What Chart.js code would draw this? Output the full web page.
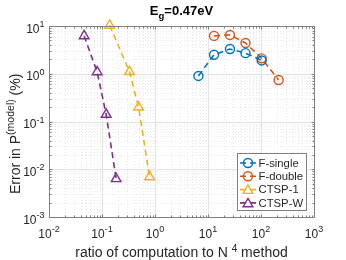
<!DOCTYPE html>
<html>
<head>
<meta charset="utf-8">
<script src="https://cdn.jsdelivr.net/npm/chart.js@4.4.0/dist/chart.umd.min.js"></script>
<style>
  html, body { margin: 0; padding: 0; background: #fff; }
</style>
</head>
<body>
<canvas id="chart" width="346" height="260"></canvas>
<script>
// values
const fSingleX = [6.6, 13, 26, 51, 103];
const fSingleY = [0.9, 2.5, 3.3, 2.7, 1.9];
const fDoubleX = [13, 26, 51, 103, 215];
const fDoubleY = [6.2, 6.5, 4.4, 2.1, 0.74];
const ctsp1X = [0.14, 0.33, 0.49, 0.79];
const ctsp1Y = [10.3, 1.1, 0.2, 0.0069];
const ctspWX = [0.046, 0.081, 0.12, 0.185];
const ctspWY = [6.2, 1.09, 0.14, 0.0063];

const seriesNames = ["F-single", "F-double", "CTSP-1", "CTSP-W"];
const seriesColors = ["#0072BD", "#D95319", "#EDB120", "#7E2F8E"];
const seriesMarkers = ["circle", "circle", "triangle", "triangle"];
const xTickExps = [-2, -1, 0, 1, 2, 3];
const yTickExps = [-3, -2, -1, 0, 1];

const FONT = '"Liberation Sans", Arial, sans-serif';
const TEXT = "#262626";
const AXIS = "#7f7f7f";

function makeSet(i, xs, ys) {
    const tri = seriesMarkers[i] === "triangle";
    return {
        label: seriesNames[i],
        data: xs.map((x, k) => ({ x: x, y: ys[k] })),
        showLine: true,
        borderColor: seriesColors[i],
        backgroundColor: "rgba(0,0,0,0)",
        borderWidth: 1.6,
        borderDash: [6, 4],
        pointStyle: seriesMarkers[i],
        pointRadius: tri ? 5.6 : 4.5,
        pointBorderWidth: 1.4,
        pointBorderColor: seriesColors[i],
        pointBackgroundColor: "rgba(0,0,0,0)",
        clip: false,
    };
}

function line(ctx, x1, y1, x2, y2) {
    ctx.beginPath();
    ctx.moveTo(x1, y1);
    ctx.lineTo(x2, y2);
    ctx.stroke();
}

function drawMarker(ctx, style, x, y, r) {
    ctx.beginPath();
    if (style === "circle") {
        ctx.arc(x, y, r, 0, Math.PI * 2);
    } else {
        for (let k = 0; k < 3; k++) {
            const a = (k * 2 * Math.PI) / 3;
            const px = x + Math.sin(a) * r;
            const py = y - Math.cos(a) * r;
            if (k === 0) ctx.moveTo(px, py);
            else ctx.lineTo(px, py);
        }
        ctx.closePath();
    }
    ctx.stroke();
}

const gridPlugin = {
    id: "matlabGrid",
    beforeDatasetsDraw(chart) {
        const { ctx, chartArea: a, scales } = chart;
        const x = scales.x, y = scales.y;
        ctx.save();
        ctx.lineWidth = 1;
        // minor grid
        ctx.strokeStyle = "#e8e8e8";
        ctx.setLineDash([1, 2]);
        for (let e = xTickExps[0]; e < xTickExps[xTickExps.length - 1]; e++) {
            for (let m = 2; m <= 9; m++) {
                const px = Math.round(x.getPixelForValue(m * Math.pow(10, e))) + 0.5;
                line(ctx, px, a.top, px, a.bottom);
            }
        }
        for (let e = yTickExps[0]; e < yTickExps[yTickExps.length - 1]; e++) {
            for (let m = 2; m <= 9; m++) {
                const py = Math.round(y.getPixelForValue(m * Math.pow(10, e))) + 0.5;
                line(ctx, a.left, py, a.right, py);
            }
        }
        // major grid
        ctx.setLineDash([]);
        ctx.strokeStyle = "#e4e4e4";
        xTickExps.forEach((e) => {
            const px = Math.round(x.getPixelForValue(Math.pow(10, e))) + 0.5;
            line(ctx, px, a.top, px, a.bottom);
        });
        yTickExps.forEach((e) => {
            const py = Math.round(y.getPixelForValue(Math.pow(10, e))) + 0.5;
            line(ctx, a.left, py, a.right, py);
        });
        ctx.restore();
    },
    afterDatasetsDraw(chart) {
        const { ctx, chartArea: a, scales } = chart;
        const x = scales.x, y = scales.y;
        const L = Math.round(a.left) + 0.5, R = Math.round(a.right) + 0.5;
        const T = Math.round(a.top) + 0.5, B = Math.round(a.bottom) + 0.5;
        ctx.save();

        // box and tick marks
        ctx.strokeStyle = AXIS;
        ctx.lineWidth = 1;
        ctx.strokeRect(L, T, R - L, B - T);
        for (let e = xTickExps[0]; e <= xTickExps[xTickExps.length - 1]; e++) {
            for (let m = 1; m <= 9; m++) {
                if (e === xTickExps[xTickExps.length - 1] && m > 1) break;
                const px = Math.round(x.getPixelForValue(m * Math.pow(10, e))) + 0.5;
                const len = m === 1 ? 3 : 2;
                line(ctx, px, B, px, B - len);
                line(ctx, px, T, px, T + len);
            }
        }
        for (let e = yTickExps[0]; e <= yTickExps[yTickExps.length - 1]; e++) {
            for (let m = 1; m <= 9; m++) {
                if (e === yTickExps[yTickExps.length - 1] && m > 1) break;
                const py = Math.round(y.getPixelForValue(m * Math.pow(10, e))) + 0.5;
                const len = m === 1 ? 3 : 2;
                line(ctx, L, py, L + len, py);
                line(ctx, R, py, R - len, py);
            }
        }

        // tick labels 10^n
        ctx.fillStyle = TEXT;
        ctx.textBaseline = "alphabetic";
        ctx.textAlign = "left";
        const baseFont = "12px " + FONT, expFont = "9px " + FONT;
        function tickLabel(e) {
            ctx.font = baseFont;
            const w1 = ctx.measureText("10").width;
            ctx.font = expFont;
            const w2 = ctx.measureText(String(e)).width;
            return { w1, w2 };
        }
        xTickExps.forEach((e) => {
            const { w1, w2 } = tickLabel(e);
            const cx = x.getPixelForValue(Math.pow(10, e));
            const sx = cx - (w1 + w2) / 2;
            ctx.font = baseFont;
            ctx.fillText("10", sx, B + 20);
            ctx.font = expFont;
            ctx.fillText(String(e), sx + w1, B + 14);
        });
        yTickExps.forEach((e) => {
            const { w1, w2 } = tickLabel(e);
            const cy = y.getPixelForValue(Math.pow(10, e));
            const sx = L - 5 - (w1 + w2);
            ctx.font = baseFont;
            ctx.fillText("10", sx, cy + 6.5);
            ctx.font = expFont;
            ctx.fillText(String(e), sx + w1, cy + 1);
        });

        // x axis label
        const xa = ["ratio of computation to N ", "4", " method"];
        ctx.font = "14px " + FONT;
        const xw1 = ctx.measureText(xa[0]).width;
        const xw3 = ctx.measureText(xa[2]).width;
        ctx.font = "10px " + FONT;
        const xw2 = ctx.measureText(xa[1]).width;
        let sx = (a.left + a.right) / 2 - (xw1 + xw2 + xw3) / 2;
        ctx.font = "14px " + FONT;
        ctx.fillText(xa[0], sx, 257);
        ctx.font = "10px " + FONT;
        ctx.fillText(xa[1], sx + xw1, 252);
        ctx.font = "14px " + FONT;
        ctx.fillText(xa[2], sx + xw1 + xw2, 257);

        // y axis label
        ctx.save();
        ctx.translate(20, 194);
        ctx.rotate(-Math.PI / 2);
        ctx.font = "14px " + FONT;
        ctx.fillText("Error in P", 0, 0);
        const yw1 = ctx.measureText("Error in P").width;
        ctx.font = "10.5px " + FONT;
        ctx.fillText("(model)", yw1, -6);
        const yw2 = ctx.measureText("(model)").width;
        ctx.font = "14px " + FONT;
        ctx.fillText(" (%)", yw1 + yw2, 0);
        ctx.restore();

        // title E_g=0.47eV
        ctx.fillStyle = "#000";
        ctx.font = "bold 13px " + FONT;
        const tw1 = ctx.measureText("E").width;
        const tw3 = ctx.measureText("=0.47eV").width;
        ctx.font = "bold 9.5px " + FONT;
        const tw2 = ctx.measureText("g").width;
        let tx = (a.left + a.right) / 2 - (tw1 + tw2 + tw3) / 2;
        ctx.font = "bold 13px " + FONT;
        ctx.fillText("E", tx, 15);
        ctx.font = "bold 9.5px " + FONT;
        ctx.fillText("g", tx + tw1, 19);
        ctx.font = "bold 13px " + FONT;
        ctx.fillText("=0.47eV", tx + tw1 + tw2, 15);

        // legend
        const lx = 237.5, ly = 153.5, lw = 69, lh = 57;
        ctx.fillStyle = "#fff";
        ctx.fillRect(lx, ly, lw, lh);
        ctx.strokeStyle = AXIS;
        ctx.lineWidth = 1;
        ctx.strokeRect(lx, ly, lw, lh);
        ctx.font = "11.3px " + FONT;
        ctx.textBaseline = "middle";
        seriesNames.forEach((name, i) => {
            const ry = 163 + i * 13.3;
            ctx.strokeStyle = seriesColors[i];
            ctx.lineWidth = 1.6;
            ctx.setLineDash([6, 4]);
            line(ctx, 240, ry, 256, ry);
            ctx.setLineDash([]);
            ctx.lineWidth = 1.4;
            const tri = seriesMarkers[i] === "triangle";
            drawMarker(ctx, seriesMarkers[i], 248, ry + (tri ? 1 : 0), tri ? 5.6 : 4.5);
            ctx.fillStyle = TEXT;
            ctx.fillText(name, 258.5, ry + 0.5);
        });

        ctx.restore();
    },
};

const chart = new Chart(document.getElementById("chart"), {
    type: "scatter",
    data: {
        datasets: [
            makeSet(0, fSingleX, fSingleY),
            makeSet(1, fDoubleX, fDoubleY),
            makeSet(2, ctsp1X, ctsp1Y),
            makeSet(3, ctspWX, ctspWY),
        ],
    },
    options: {
        responsive: false,
        animation: false,
        devicePixelRatio: 1,
        layout: {
            padding: { left: 49, top: 26, right: 32, bottom: 43 },
        },
        scales: {
            x: { type: "logarithmic", min: 0.01, max: 1000, display: false },
            y: { type: "logarithmic", min: 0.001, max: 10, display: false },
        },
        plugins: {
            legend: { display: false },
            tooltip: { enabled: false },
        },
    },
    plugins: [gridPlugin],
});
</script>
</body>
</html>
